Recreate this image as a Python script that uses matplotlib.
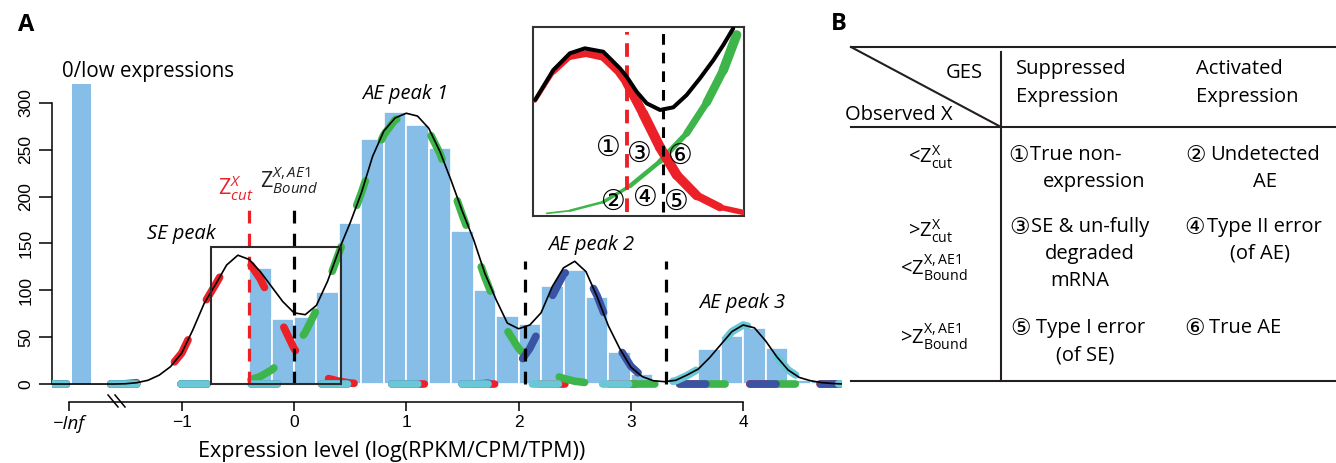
import numpy as np
import matplotlib
matplotlib.use('Agg')
import matplotlib.pyplot as plt
from matplotlib.collections import LineCollection
from matplotlib.patches import Rectangle

plt.rcParams['font.family'] = ['Open Sans', 'DejaVu Sans', 'Noto Sans CJK JP']
plt.rcParams['mathtext.fontset'] = 'custom'
plt.rcParams['mathtext.rm'] = 'Open Sans'
plt.rcParams['mathtext.it'] = 'Open Sans:italic'

# ---- panel A data ----
zero_bin_left, zero_bin_width, zero_count = -1.98, 0.17, 320   # the "-Inf" bar
bin_left = [-0.4, -0.2, 0.0, 0.2, 0.4, 0.6, 0.8, 1.0, 1.2, 1.4, 1.6, 1.8, 2.0,
            2.2, 2.4, 2.6, 2.8, 3.0, 3.6, 3.8, 4.0, 4.2, 4.4, 4.6, 4.8]
counts = [123.5, 69, 72, 98, 172, 261, 290, 276, 252, 163, 100, 73, 64,
          105, 122, 93, 34.5, 10.7, 37, 51, 59.5, 38, 4, 4, 3]
bin_w = 0.2

xs = np.round(np.arange(-2.2, 4.95, 0.1), 2)   # sampling positions of the curves
mix_total = [0, 0, 0, 0, 0, 0, 0, 0.3,
             1.4, 4, 9.5, 18.5, 33, 58, 86, 106, 127, 137.5,
             133, 120, 104, 88, 76, 74, 84, 110, 143, 172,
             204, 243, 270, 284, 289, 286, 273, 248, 217, 184,
             154, 118, 90, 65, 59, 63, 76, 104, 124, 131,
             120, 93, 62, 38, 18, 8, 3.5, 2.5, 4, 9.6,
             16, 28, 42, 56, 63, 60, 46, 29, 15, 7,
             3.5, 1.5, 0.5, 0]
comp_se = ([0] * 7 + [0.3,
           1.4, 4, 9.5, 18.5, 33, 58, 86, 106, 127, 136,
           130, 112, 88, 63, 38, 22, 12, 6, 3, 1,
           0.3] + [0] * 43)
comp_ae1 = ([0] * 16 + [1, 2,
            4, 8, 15, 25, 38, 55, 79, 107, 140, 172,
            204, 240, 266, 282, 287, 284, 270, 246, 214, 180,
            148, 114, 84, 57, 38, 25, 16, 10, 6, 3,
            1.5, 0.5] + [0] * 22)
comp_ae2 = ([0] * 39 + [0.5, 2, 8, 21, 38, 62, 94, 117, 128,
            118, 94, 63, 38, 19, 8, 3, 1, 0.3] + [0] * 15)
comp_ae3 = ([0] * 53 + [0.3, 1, 1.5, 3.5, 9,
            16, 28, 42, 56, 63, 60, 46, 29, 15, 7,
            3.5, 1.5, 0.5, 0])

z_cut, z_bound = -0.40, 0.0
bound2, bound3 = 2.06, 3.31
zoom_box = (-0.735, 0.0, 1.15, 146.5)

# ---- inset data (stylised zoom) ----
ins_black_u = [1, 9.6, 17.5, 24.6, 33.3, 41.2, 44.4, 49.1, 53.9, 60.2, 66.5, 72.8, 79.1, 85.5, 90.2, 94.9]
ins_black_v = [61.4, 77.2, 86.1, 88.7, 86.9, 78.1, 73.7, 65.8, 59.6, 56.1, 57.5, 64, 72.8, 82.5, 90.5, 99.3]
ins_red_u = [0.95, 9.6, 17.5, 25.4, 33.3, 41.2, 44.4, 52.3, 60.2, 68.1, 77.6, 88.6, 99.7]
ins_red_v = [61.0, 76.2, 84.3, 85.9, 84.0, 75.5, 70.7, 54.0, 36.3, 21.7, 10.8, 4.6, 1.9]
ins_red_w = [3, 5, 6, 7, 7, 8, 9, 10, 10, 10, 9, 7, 4]
ins_green_u = [6.5, 17.5, 33.3, 46.0, 60.2, 72.8, 82.3, 90.2, 96.5]
ins_green_v = [1.4, 2.8, 7.4, 15.9, 28.9, 43.7, 60.0, 77.2, 95.8]
ins_green_w = [1.5, 2, 3, 4, 5, 6, 8, 9, 10]
ins_marks = ['①', '②', '③', '④', '⑤', '⑥']
ins_marks_u = [35.7, 38.1, 50.4, 53.1, 68.1, 69.7]
ins_marks_v = [35.3, 7.1, 32.3, 9.3, 7.1, 31.4]

# ---- panel B table text ----
col_head = [('Suppressed', 'Expression'), ('Activated', 'Expression')]
row_head = [r'<Z$^{\mathregular{X}}_{\mathregular{cut}}$',
            r'>Z$^{\mathregular{X}}_{\mathregular{cut}}$',
            r'<Z$^{\mathregular{X,AE1}}_{\mathregular{Bound}}$',
            r'>Z$^{\mathregular{X,AE1}}_{\mathregular{Bound}}$']
cell_mark = ['①', '②', '③', '④', '⑤', '⑥']
cell_first = ['True non-', 'Undetected', 'SE & un-fully', 'Type II error', 'Type I error', 'True AE']
cell_more = [['expression'], ['AE'], ['degraded', 'mRNA'], ['(of AE)'], ['(of SE)'], []]

bar_col = '#86BEE7'
c_red, c_green, c_blue, c_cyan = '#EC2027', '#3DB54A', '#3A53A4', '#69C7D7'

W, H = 1336, 463
fig = plt.figure(figsize=(W / 100, H / 100), dpi=100)

# overlay in pixel units for the table and free text
ov = fig.add_axes([0, 0, 1, 1], zorder=0)
ov.set_xlim(0, W)
ov.set_ylim(H, 0)
ov.axis('off')

ax = fig.add_axes([52 / W, 1 - 421.5 / H, 790 / W, 393.5 / H], zorder=1)
ax.patch.set_alpha(0)
ax.set_xlim(-2.155, 4.88)
ax.set_ylim(-40, 380)

ax.bar(zero_bin_left, zero_count, width=zero_bin_width, align='edge', color=bar_col, zorder=1)
ax.bar(bin_left, counts, width=bin_w, align='edge', color=bar_col, edgecolor='white', linewidth=1.2, zorder=1)

dash = (0.85, (3.4, 5.8))
for comp, col, z in [(comp_se, c_red, 2), (comp_ae1, c_green, 3), (comp_ae2, c_blue, 4), (comp_ae3, c_cyan, 5)]:
    ax.plot(xs, comp, color=col, lw=5.5, linestyle=dash, dash_capstyle='round', zorder=z)

vdash = (0, (4, 3.2))
ax.plot([z_cut, z_cut], [0, 189], color=c_red, lw=2.3, linestyle=vdash, zorder=6)
ax.plot([z_bound, z_bound], [0, 191], color='black', lw=2.3, linestyle=vdash, zorder=6)
ax.plot([bound2, bound2], [0, 131], color='black', lw=2.3, linestyle=vdash, zorder=6)
ax.plot([bound3, bound3], [0, 131], color='black', lw=2.3, linestyle=vdash, zorder=6)

ax.plot(xs, mix_total, color='black', lw=1.2, zorder=7)
ax.add_patch(Rectangle(zoom_box[:2], zoom_box[2], zoom_box[3], fill=False,
                       edgecolor='#2b2b2b', lw=1.5, zorder=8))

# axes in R style
for s in ['top', 'right']:
    ax.spines[s].set_visible(False)
ax.spines['left'].set_bounds(0, 300)
ax.spines['left'].set_linewidth(1.1)
ax.spines['bottom'].set_position(('data', -19.2))
ax.spines['bottom'].set_bounds(-2, 4)
ax.spines['bottom'].set_linewidth(1.1)
ax.set_yticks([0, 50, 100, 150, 200, 250, 300])
ax.set_yticklabels(['0', '50', '100', '150', '200', '250', '300'], rotation=90, va='center',
                   fontfamily='Liberation Sans', fontsize=12.5)
ax.tick_params(axis='y', length=9.5, width=1.1, pad=4)
ax.set_xticks([-2, -1, 0, 1, 2, 3, 4])
ax.set_xticklabels(['\u2212Inf', '\u22121', '0', '1', '2', '3', '4'],
                   fontfamily='Liberation Sans', fontsize=12.5)
ax.get_xticklabels()[0].set_fontstyle('italic')
ax.get_xticklabels()[0].set_fontfamily('Open Sans')
ax.get_xticklabels()[0].set_fontsize(13.5)
ax.tick_params(axis='x', length=6.5, width=1.1, pad=3)
# axis break
ax.plot([-1.656, -1.567], [-11.7, -24.5], color='black', lw=1.1, clip_on=False)
ax.plot([-1.594, -1.505], [-11.7, -24.5], color='black', lw=1.1, clip_on=False)

ax.text(-2.066, 327.7, '0/low expressions', fontsize=14.8, va='baseline')
ax.text(0.603, 304.2, 'AE peak 1', fontsize=14.5, style='italic', va='baseline')
ax.text(-1.312, 155.1, 'SE peak', fontsize=14.5, style='italic', va='baseline')
ax.text(2.264, 143, 'AE peak 2', fontsize=14.5, style='italic', va='baseline')
ax.text(3.609, 80.8, 'AE peak 3', fontsize=14.5, style='italic', va='baseline')
ax.text(-0.677, 201.7, r'Z$^{\mathit{X}}_{\mathit{cut}}$', fontsize=15.5, color=c_red, va='baseline')
ax.text(-0.303, 208.9, r'Z$^{\mathit{X,AE1}}_{\mathit{Bound}}$', fontsize=15.5, color='#231f20', va='baseline')

ov.text(392, 452, 'Expression level (log(RPKM/CPM/TPM))', fontsize=15.5, ha='center', va='center')
ov.text(26, 25, 'A', fontsize=17, fontweight='bold', ha='center', va='center')
ov.text(839, 24, 'B', fontsize=17, fontweight='bold', ha='center', va='center')

# ---- inset ----
ins = fig.add_axes([533 / W, 1 - 216 / H, 211 / W, 189 / H], zorder=2)
ins.set_xlim(0, 100)
ins.set_ylim(0, 100)
ins.set_xticks([])
ins.set_yticks([])
for s in ins.spines.values():
    s.set_linewidth(1.5)
    s.set_color('#333333')


def taper(a, u, v, w, color, z):
    pts = np.column_stack([u, v])
    segs = np.stack([pts[:-1], pts[1:]], axis=1)
    lw = (np.array(w[:-1]) + np.array(w[1:])) / 2 / 1.389
    a.add_collection(LineCollection(segs, linewidths=lw, colors=color,
                                    capstyle='round', joinstyle='round', zorder=z))


taper(ins, ins_green_u, ins_green_v, ins_green_w, c_green, 2)
taper(ins, ins_red_u, ins_red_v, ins_red_w, c_red, 3)
ins.plot([44.4, 44.4], [2.3, 97.5], color=c_red, lw=2.8, linestyle=(0, (3.5, 2.2)), zorder=4)
ins.plot([61.8, 61.8], [2.3, 97.5], color='black', lw=2.2, linestyle=(0, (3.5, 2.6)), zorder=5)
ins.plot(ins_black_u, ins_black_v, color='black', lw=2.9, solid_capstyle='round', zorder=6)
for m, u, v in zip(ins_marks, ins_marks_u, ins_marks_v):
    ins.text(u, v, m, fontsize=20, ha='center', va='center', zorder=7)

# ---- panel B table ----
lc = '#231f20'
ov.plot([851, W], [47, 47], color=lc, lw=1.5)
ov.plot([851, 1001], [47, 127], color=lc, lw=1.5)
ov.plot([851, W], [127, 127], color=lc, lw=1.5)
ov.plot([1001, 1001], [52, 381], color=lc, lw=1.5)
ov.plot([851, W], [381, 381], color=lc, lw=1.5)

fs = 14.5
ov.text(983, 73, 'GES', fontsize=fs, ha='right', va='center')
ov.text(845, 115, 'Observed X', fontsize=fs, ha='left', va='center')
for (l1, l2), x0 in zip(col_head, [1016, 1196]):
    ov.text(x0, 69, l1, fontsize=fs, va='center')
    ov.text(x0, 97, l2, fontsize=fs, va='center')

for lab, xr, yc in zip(row_head, [953, 953, 968, 968], [157, 231, 268, 337]):
    ov.text(xr, yc, lab, fontsize=fs, ha='right', va='center')

mark_x = [1019, 1196, 1020, 1195, 1021, 1195]
first_x = [1030, 1210, 1031, 1207, 1036, 1209]
row_y = [155, 155, 227, 227, 328, 328]
more_x = [(1043,), (1265,), (1090, 1080), (1260,), (1085,), ()]
more_ha = ['left', 'center', 'center', 'center', 'center', 'center']
for i in range(6):
    ov.text(mark_x[i], row_y[i] + 1, cell_mark[i], fontsize=16.5, ha='center', va='center')
    ov.text(first_x[i], row_y[i], cell_first[i], fontsize=fs, va='center')
    for j, (t, xm) in enumerate(zip(cell_more[i], more_x[i])):
        ov.text(xm, row_y[i] + 27 * (j + 1), t, fontsize=fs, ha=more_ha[i], va='center')

fig.savefig('out.png', dpi=100)
